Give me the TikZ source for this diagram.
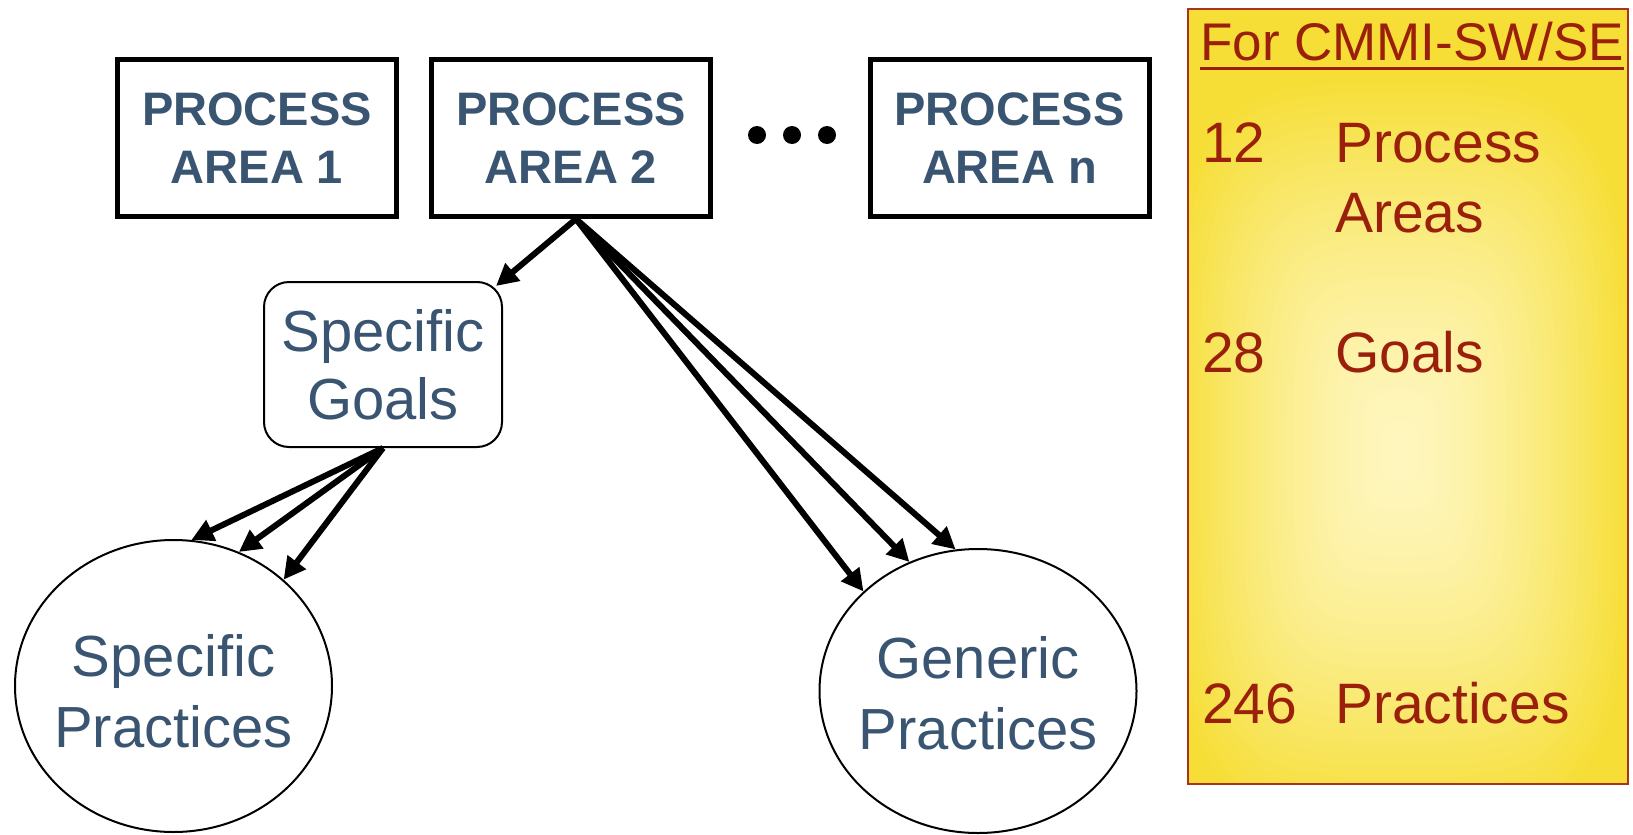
\documentclass[tikz,border=0pt]{standalone}
\usepackage{fontspec}
\setmainfont{Liberation Sans}
\usetikzlibrary{arrows.meta,shapes.geometric}

\definecolor{areatext}{HTML}{3A5571}
\definecolor{summarytext}{HTML}{9A200C}
\definecolor{summaryedge}{HTML}{A8341F}

% soft rectangular glow: pale core (FEF6BE) growing to yellow (F6DE36) towards every side
\pgfdeclarefunctionalshading{summaryglow}{\pgfpoint{-50bp}{-50bp}}{\pgfpoint{50bp}{50bp}}{}{
  3.5 add 24 div dup mul dup mul
  exch 1 add 26 div dup mul dup mul
  add sqrt sqrt
  dup 1 gt {pop 1} if
  dup sqrt mul
  dup dup
  0.031 mul 0.996 exch sub
  3 1 roll
  0.094 mul 0.965 exch sub
  exch
  0.533 mul 0.745 exch sub
}

\begin{document}
\begin{tikzpicture}[x=1pt,y=-1pt,
  areabox/.style={draw, line width=5pt, minimum width=279pt, minimum height=157pt,
    inner sep=0pt, align=center, text=areatext,
    font=\fontsize{47}{58}\selectfont\bfseries},
  goalbox/.style={draw, line width=2pt, rounded corners=25pt, minimum width=238pt,
    minimum height=165pt, inner sep=0pt, align=center, text=areatext,
    font=\fontsize{58}{68}\selectfont},
  practice/.style={ellipse, draw, line width=2pt, inner sep=0pt},
  practicetext/.style={inner sep=0pt, align=center, text=areatext,
    font=\fontsize{58}{71}\selectfont},
  link/.style={line width=6pt, -{Triangle[length=22pt,width=22pt]}},
  summaryline/.style={anchor=base west, text=summarytext, inner sep=0pt,
    font=\fontsize{57}{68}\selectfont},
  dot/.style={fill=black}
]
\useasboundingbox (0,0) rectangle (1633,835);
\fill[white] (0,0) rectangle (1633,835);

% process areas
\node[areabox] (pa1) at (257,138) {PROCESS\\AREA 1};
\node[areabox] (pa2) at (571,138) {PROCESS\\AREA 2};
\node[areabox] (pan) at (1009.5,138) {PROCESS\\AREA n};
\fill[dot] (757,135) circle[radius=9pt];
\fill[dot] (792,135) circle[radius=9pt];
\fill[dot] (827,135) circle[radius=9pt];

% goals and practices
\node[goalbox] (sg) at (383,364.5) {Specific\\Goals};
\node[practice, minimum width=317pt, minimum height=292pt] (sp) at (173.5,686) {};
\node[practicetext] (sptext) at ([yshift=-5pt]sp.center) {Specific\\Practices};
\node[practice, minimum width=317pt, minimum height=284pt] (gp) at (978,691) {};
\node[practicetext] (gptext) at ([yshift=-2pt]gp.center) {Generic\\Practices};

% connectors
\coordinate (hub) at ([xshift=5pt]pa2.south);
\draw[link] (hub) -- ([xshift=-7pt,yshift=-5pt]sg.north east);
\draw[link] (hub) -- (gp.139);
\draw[link] (hub) -- (gp.118.5);
\draw[link] (hub) -- (gp.99.5);
\draw[link] (sg.south) -- (sp.83.5);
\draw[link] (sg.south) -- (sp.64);
\draw[link] (sg.south) -- (sp.44);

% summary panel
\node[draw=summaryedge, line width=2pt, shading=summaryglow, minimum width=440pt,
  minimum height=775pt, inner sep=0pt] (summary) at (1408,396.5) {};
\node[summaryline, font=\fontsize{53}{64}\selectfont] (title) at (1200,60) {For CMMI-SW/SE};
\draw[summarytext, line width=3pt] ([yshift=-8pt]title.base west) -- ([yshift=-8pt]title.base east);
\node[summaryline] (n12) at (1202,162) {12};
\node[summaryline] (wprocess) at (1335,162) {Process};
\node[summaryline] (wareas) at (1335,232) {Areas};
\node[summaryline] (n28) at (1202,372) {28};
\node[summaryline] (wgoals) at (1335,372) {Goals};
\node[summaryline] (n246) at (1202,723) {246};
\node[summaryline] (wpractices) at (1335,723) {Practices};
\end{tikzpicture}
\end{document}
